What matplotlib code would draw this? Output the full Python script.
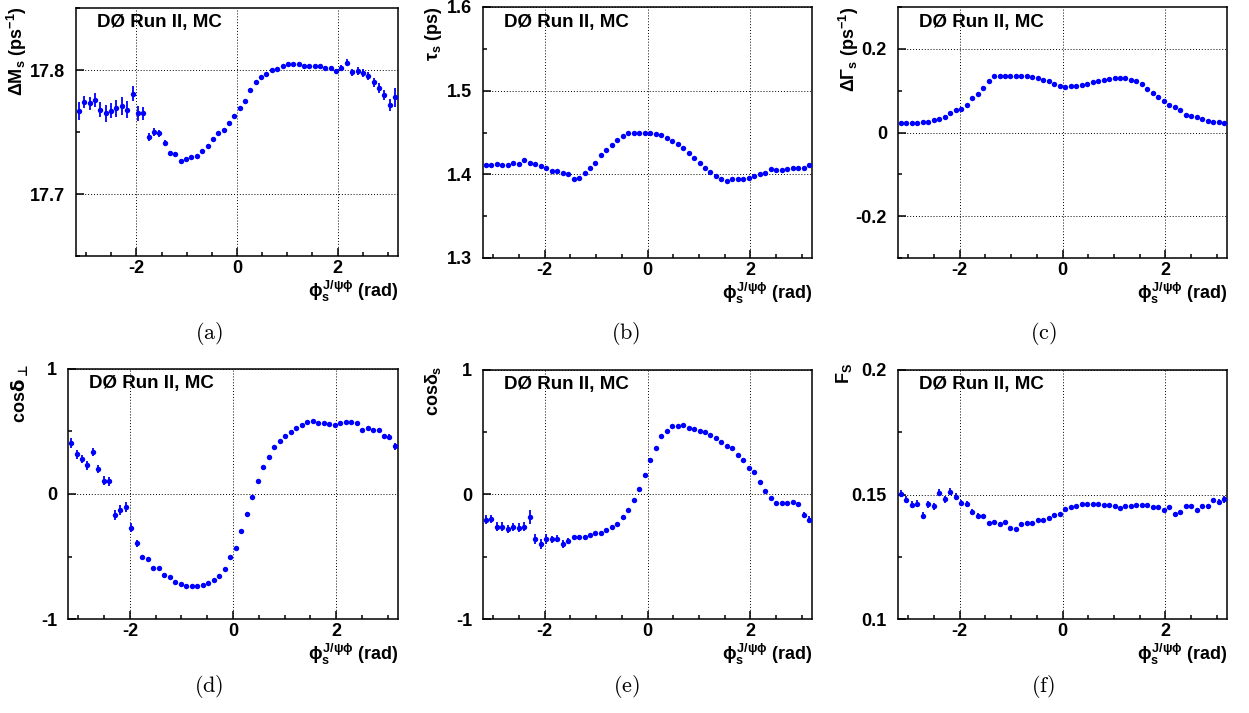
import numpy as np
import matplotlib
matplotlib.use('Agg')
import matplotlib.pyplot as plt

# Fontes estilo ROOT (Helvetica bold)
plt.rcParams['font.family'] = ['Liberation Sans', 'DejaVu Sans']
plt.rcParams['font.weight'] = 'bold'
plt.rcParams['axes.unicode_minus'] = False
plt.rcParams['mathtext.fontset'] = 'custom'
plt.rcParams['mathtext.rm'] = 'Liberation Sans:bold'
plt.rcParams['mathtext.it'] = 'Liberation Sans:bold'
plt.rcParams['mathtext.bf'] = 'Liberation Sans:bold'

# Posicoes em phi_s (60 pontos de -pi a pi)
phi = np.linspace(-np.pi, np.pi, 60)

# (a) Delta M_s
dms = [17.767, 17.774, 17.773, 17.776, 17.768, 17.765, 17.767, 17.769, 17.771, 17.768,
       17.781, 17.765, 17.765, 17.746, 17.750, 17.749, 17.741, 17.733, 17.732, 17.727,
       17.728, 17.730, 17.731, 17.735, 17.739, 17.744, 17.749, 17.752, 17.757, 17.763,
       17.769, 17.775, 17.784, 17.790, 17.794, 17.7965, 17.800, 17.801, 17.803, 17.805,
       17.805, 17.805, 17.8035, 17.8035, 17.803, 17.803, 17.802, 17.802, 17.799, 17.802,
       17.806, 17.798, 17.7995, 17.7975, 17.795, 17.790, 17.7855, 17.780, 17.772, 17.778]
dms_err = [0.0073, 0.005, 0.0055, 0.0055, 0.006, 0.0068, 0.006, 0.0068, 0.0075, 0.0068,
           0.0062, 0.006, 0.0055, 0.0035, 0.0032, 0.003, 0.0025, 0.002, 0.0018, 0.0015,
           0.0012, 0.0012, 0.0012, 0.0012, 0.0012, 0.0012, 0.0012, 0.0012, 0.0012, 0.0012,
           0.0012, 0.0012, 0.0012, 0.0012, 0.0012, 0.0012, 0.0012, 0.0012, 0.0012, 0.0012,
           0.0012, 0.0012, 0.0012, 0.0012, 0.0012, 0.0012, 0.0012, 0.0012, 0.0015, 0.002,
           0.0025, 0.0032, 0.0032, 0.0032, 0.0032, 0.0038, 0.004, 0.004, 0.0048, 0.0075]

# (b) tau_s
tau = [1.4116, 1.411, 1.412, 1.411, 1.411, 1.413, 1.412, 1.417, 1.414, 1.412,
       1.410, 1.408, 1.404, 1.404, 1.402, 1.400, 1.395, 1.396, 1.401, 1.407,
       1.414, 1.423, 1.429, 1.435, 1.441, 1.446, 1.449, 1.450, 1.450, 1.449,
       1.449, 1.448, 1.447, 1.444, 1.440, 1.436, 1.431, 1.426, 1.420, 1.414,
       1.408, 1.403, 1.398, 1.395, 1.392, 1.394, 1.394, 1.394, 1.396, 1.398,
       1.400, 1.402, 1.406, 1.405, 1.405, 1.406, 1.408, 1.408, 1.408, 1.411]
tau_err = [0.0015, 0.0015, 0.0015, 0.0015, 0.0015, 0.0015, 0.0015, 0.0015, 0.0015, 0.0015,
           0.0015, 0.0015, 0.0012, 0.0012, 0.0012, 0.001, 0.001, 0.001, 0.001, 0.001,
           0.001, 0.001, 0.001, 0.001, 0.001, 0.001, 0.001, 0.001, 0.001, 0.001,
           0.001, 0.001, 0.001, 0.001, 0.001, 0.001, 0.001, 0.001, 0.001, 0.001,
           0.001, 0.001, 0.001, 0.001, 0.001, 0.001, 0.001, 0.001, 0.001, 0.001,
           0.001, 0.001, 0.001, 0.001, 0.001, 0.001, 0.0012, 0.0012, 0.0012, 0.0015]

# (c) Delta Gamma_s
dg = [0.023, 0.023, 0.022, 0.023, 0.025, 0.026, 0.030, 0.032, 0.037, 0.046,
      0.053, 0.056, 0.066, 0.082, 0.093, 0.107, 0.122, 0.134, 0.134, 0.136,
      0.136, 0.136, 0.136, 0.135, 0.133, 0.130, 0.126, 0.122, 0.117, 0.110,
      0.109, 0.111, 0.112, 0.114, 0.117, 0.121, 0.122, 0.125, 0.128, 0.130,
      0.130, 0.130, 0.126, 0.123, 0.117, 0.105, 0.094, 0.086, 0.076, 0.066,
      0.060, 0.054, 0.043, 0.039, 0.036, 0.032, 0.027, 0.026, 0.025, 0.022]
dg_err = [0.004, 0.004, 0.004, 0.004, 0.004, 0.004, 0.004, 0.004, 0.004, 0.004,
          0.004, 0.004, 0.003, 0.003, 0.003, 0.003, 0.003, 0.003, 0.003, 0.003,
          0.003, 0.003, 0.003, 0.003, 0.003, 0.003, 0.003, 0.003, 0.003, 0.003,
          0.003, 0.003, 0.003, 0.003, 0.003, 0.003, 0.003, 0.003, 0.003, 0.003,
          0.003, 0.003, 0.003, 0.003, 0.003, 0.003, 0.003, 0.003, 0.003, 0.003,
          0.003, 0.003, 0.003, 0.003, 0.003, 0.003, 0.003, 0.004, 0.004, 0.004]

# (d) cos delta_perp
cperp = [0.405, 0.317, 0.279, 0.228, 0.336, 0.199, 0.107, 0.102, -0.166, -0.126,
         -0.105, -0.268, -0.395, -0.502, -0.521, -0.593, -0.593, -0.644, -0.663, -0.706,
         -0.722, -0.736, -0.736, -0.736, -0.725, -0.714, -0.690, -0.652, -0.596, -0.505,
         -0.430, -0.295, -0.156, -0.021, 0.107, 0.215, 0.298, 0.379, 0.421, 0.467,
         0.497, 0.529, 0.553, 0.572, 0.580, 0.569, 0.564, 0.561, 0.553, 0.566,
         0.577, 0.577, 0.566, 0.510, 0.526, 0.515, 0.513, 0.462, 0.456, 0.381]
cperp_err = [0.04, 0.035, 0.035, 0.035, 0.035, 0.035, 0.035, 0.035, 0.04, 0.04,
             0.04, 0.035, 0.025, 0.015, 0.015, 0.012, 0.012, 0.01, 0.01, 0.01,
             0.01, 0.01, 0.01, 0.01, 0.01, 0.01, 0.01, 0.01, 0.01, 0.01,
             0.01, 0.01, 0.01, 0.01, 0.01, 0.01, 0.01, 0.01, 0.01, 0.01,
             0.01, 0.01, 0.01, 0.01, 0.01, 0.01, 0.01, 0.01, 0.01, 0.01,
             0.01, 0.01, 0.012, 0.012, 0.012, 0.015, 0.015, 0.02, 0.02, 0.03]

# (e) cos delta_s
cs = [-0.202, -0.196, -0.258, -0.258, -0.277, -0.261, -0.266, -0.258, -0.178, -0.355,
      -0.396, -0.361, -0.361, -0.355, -0.396, -0.371, -0.345, -0.345, -0.345, -0.328,
      -0.312, -0.310, -0.285, -0.258, -0.234, -0.180, -0.124, -0.048, 0.043, 0.159,
      0.280, 0.374, 0.466, 0.511, 0.549, 0.549, 0.557, 0.536, 0.528, 0.514,
      0.501, 0.476, 0.452, 0.423, 0.393, 0.371, 0.320, 0.280, 0.215, 0.180,
      0.100, 0.032, -0.030, -0.065, -0.065, -0.065, -0.062, -0.078, -0.164, -0.202]
cs_err = [0.035, 0.035, 0.035, 0.035, 0.035, 0.035, 0.035, 0.035, 0.055, 0.04,
          0.04, 0.04, 0.03, 0.03, 0.03, 0.02, 0.02, 0.02, 0.02, 0.012,
          0.01, 0.01, 0.01, 0.01, 0.01, 0.01, 0.01, 0.01, 0.01, 0.01,
          0.01, 0.01, 0.01, 0.01, 0.01, 0.01, 0.01, 0.01, 0.01, 0.01,
          0.01, 0.01, 0.01, 0.01, 0.01, 0.01, 0.01, 0.01, 0.01, 0.01,
          0.01, 0.01, 0.01, 0.012, 0.012, 0.015, 0.015, 0.02, 0.025, 0.03]

# (f) F_S
fs = [0.1504, 0.1478, 0.1458, 0.1462, 0.1414, 0.1461, 0.1453, 0.1508, 0.1480, 0.1512,
      0.1491, 0.1466, 0.1462, 0.1430, 0.1414, 0.1414, 0.1384, 0.1390, 0.1383, 0.1388,
      0.1367, 0.1360, 0.1380, 0.1384, 0.1387, 0.1399, 0.1399, 0.1404, 0.1417, 0.1421,
      0.1441, 0.1449, 0.1454, 0.1460, 0.1460, 0.1462, 0.1460, 0.1456, 0.1456, 0.1454,
      0.1446, 0.1454, 0.1453, 0.1457, 0.1456, 0.1456, 0.1450, 0.1449, 0.1439, 0.1448,
      0.1423, 0.1430, 0.1453, 0.1452, 0.1437, 0.1452, 0.1452, 0.1476, 0.1468, 0.1480]
fs_err = [0.0016, 0.0014, 0.0014, 0.0014, 0.0014, 0.0014, 0.0014, 0.0015, 0.0014, 0.0014,
          0.0014, 0.0013, 0.0013, 0.001, 0.001, 0.0009, 0.0007, 0.0006, 0.0006, 0.0006,
          0.0005, 0.0005, 0.0005, 0.0005, 0.0005, 0.0005, 0.0005, 0.0005, 0.0005, 0.0005,
          0.0005, 0.0005, 0.0005, 0.0005, 0.0005, 0.0005, 0.0005, 0.0005, 0.0005, 0.0005,
          0.0005, 0.0005, 0.0005, 0.0005, 0.0005, 0.0005, 0.0005, 0.0005, 0.0005, 0.0005,
          0.0006, 0.0006, 0.0006, 0.0006, 0.0007, 0.0008, 0.0009, 0.001, 0.0012, 0.0014]

# Rotulos (o do painel d usa DejaVu, que tem o simbolo de perpendicular)
ylabels = [r'$\Delta$M$_{s}$ (ps$^{-1}$)', r'$\tau_{s}$ (ps)', r'$\Delta\Gamma_{s}$ (ps$^{-1}$)',
           r'cos$\mathrm{\delta_{\bot}}$', r'cos$\delta_{s}$', r'F$_{S}$']
ylab_math = ['custom', 'custom', 'custom', 'dejavusans', 'custom', 'custom']
captions = ['(a)', '(b)', '(c)', '(d)', '(e)', '(f)']
xlabel = r'$\phi_{s}^{J/\psi\phi}$ (rad)'

W, H = 1249, 713
fig = plt.figure(figsize=(W / 100, H / 100), dpi=100)

# caixas em pixels: esquerda, topo, direita, base
boxes = [(76, 8, 398, 256), (483, 7, 812, 258), (898, 7, 1227, 258),
         (68, 369, 398, 619), (483, 370, 812, 619), (898, 370, 1227, 619)]
series = [(dms, dms_err), (tau, tau_err), (dg, dg_err),
          (cperp, cperp_err), (cs, cs_err), (fs, fs_err)]
ylims = [(17.65, 17.85), (1.3, 1.6), (-0.3, 0.3), (-1, 1), (-1, 1), (0.1, 0.2)]
ymajor = [[17.7, 17.8], [1.3, 1.4, 1.5, 1.6], [-0.2, 0, 0.2], [-1, 0, 1], [-1, 0, 1], [0.1, 0.15, 0.2]]
ymajor_lbl = [['17.7', '17.8'], ['1.3', '1.4', '1.5', '1.6'], ['-0.2', '0', '0.2'],
              ['-1', '0', '1'], ['-1', '0', '1'], ['0.1', '0.15', '0.2']]
yminor = [[17.65, 17.75, 17.85], [1.35, 1.45, 1.55], [-0.3, -0.1, 0.1, 0.3],
          [-0.5, 0.5], [-0.5, 0.5], [0.125, 0.175]]
# posicao dos titulos do eixo y (centro x, topo y) em pixels
ylab_pos = [(17, 6), (433, 6), (849, 7), (20, 364), (433, 366), (844, 363)]
cap_pos = [(209, 334), (626, 334), (1043, 334), (209, 686), (626, 686), (1043, 686)]

for i in range(6):
    l, t, r, b = boxes[i]
    ax = fig.add_axes([l / W, 1 - b / H, (r - l) / W, (b - t) / H])
    y, err = series[i]
    ax.errorbar(phi, y, yerr=err, fmt='o', color='blue', ms=3.9, mew=0,
                elinewidth=1.3, capsize=0, zorder=3)
    ax.set_xlim(-3.2, 3.2)
    ax.set_ylim(*ylims[i])
    ax.set_xticks([-2, 0, 2])
    ax.set_xticklabels(['-2', '0', '2'])
    ax.set_xticks(np.arange(-3.0, 3.01, 0.5), minor=True)
    ax.set_yticks(ymajor[i])
    ax.set_yticklabels(ymajor_lbl[i])
    ax.set_yticks(yminor[i], minor=True)
    ax.tick_params(which='both', direction='in', top=False, right=False,
                   width=1.1, labelsize=13)
    ax.tick_params(which='major', length=6)
    ax.tick_params(which='minor', length=3)
    ax.tick_params(axis='y', which='major', pad=8)
    ax.tick_params(axis='x', which='major', pad=3)
    for s in ax.spines.values():
        s.set_linewidth(1.1)
    ax.grid(True, which='major', color='k', linestyle=(0, (1, 2)), linewidth=0.7)
    ax.text(0.065, 0.94, u'D\u00d8 Run II, MC', transform=ax.transAxes,
            fontsize=13.5, fontweight='bold', ha='left', va='center')

    # titulo x alinhado a direita, titulo y no topo (estilo ROOT)
    fig.text(r / W, 1 - (t + (b - t) + 23) / H, xlabel, fontsize=13,
             ha='right', va='top')
    xl, yt = ylab_pos[i]
    fig.text(xl / W, 1 - yt / H, ylabels[i], fontsize=13, rotation=90,
             ha='center', va='top', math_fontfamily=ylab_math[i])
    cx, cy = cap_pos[i]
    fig.text(cx / W, 1 - cy / H, r'$\mathrm{' + captions[i] + '}$',
             math_fontfamily='cm', fontsize=16, ha='center', va='center')

fig.savefig('out.png', dpi=100)
